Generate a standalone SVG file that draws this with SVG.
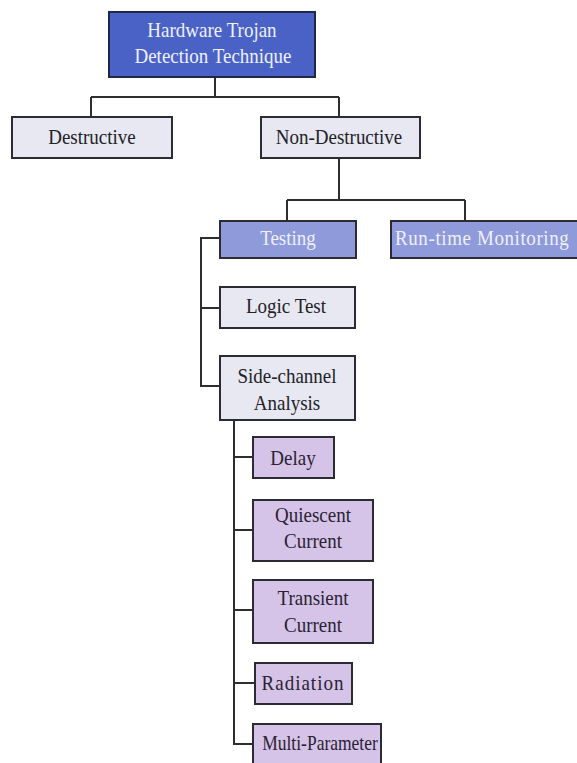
<svg xmlns="http://www.w3.org/2000/svg" width="577" height="763" viewBox="0 0 577 763">
<style>
text{font-family:"Liberation Serif","Times New Roman",serif;font-size:19px;text-anchor:middle}
.box{stroke:#2b2b33;stroke-width:2}
.top{fill:#4a62c6;stroke:#1f2747}
.lt{fill:#e7e8f1}
.mb{fill:#8e9ad9}
.pu{fill:#d5c4e7}
.wt{fill:#eef0fa}
.dk{fill:#222228}
.pt{fill:#2a2233}
.conn{fill:none;stroke:#2e2e2e;stroke-width:2}
</style>
<rect width="577" height="763" fill="#ffffff"/>
<g id="connectors">
<path class="conn" d="M215 77V97M91 97H339M91 97V117M339 97V117"/>
<path class="conn" d="M339 158V200M287 200H465M287 200V221M465 200V221"/>
<path class="conn" d="M220 238H201V386H220M201 308H220"/>
<path class="conn" d="M234 420V744H253M234 457H253M234 530H253M234 610H253M234 683H255"/>
</g>
<g id="n-root"><rect class="box top" x="109" y="12" width="206" height="65"/><text class="wt" x="212" y="37" transform="translate(0,-5.55) scale(1,1.15)">Hardware Trojan</text><text class="wt" x="213" y="63" transform="translate(0,-9.45) scale(1,1.15)">Detection Technique</text></g>
<g id="n-destructive"><rect class="box lt" x="12" y="117" width="160" height="41"/><text class="dk" x="92" y="144" transform="translate(0,-21.6) scale(1,1.15)">Destructive</text></g>
<g id="n-nondestructive"><rect class="box lt" x="261" y="117" width="159" height="41"/><text class="dk" x="339" y="144" transform="translate(0,-21.6) scale(1,1.15)">Non-Destructive</text></g>
<g id="n-testing"><rect class="box mb" x="220" y="221" width="136" height="37"/><text class="wt" x="288" y="245" transform="translate(0,-36.75) scale(1,1.15)">Testing</text></g>
<g id="n-runtime"><rect class="box mb" x="391" y="221" width="192" height="37"/><text class="wt" x="395" y="245" style="text-anchor:start;letter-spacing:0.6px" transform="translate(0,-36.75) scale(1,1.15)">Run-time Monitoring</text></g>
<g id="n-logic"><rect class="box lt" x="220" y="287" width="135" height="41"/><text class="dk" x="286" y="313" transform="translate(0,-46.95) scale(1,1.15)">Logic Test</text></g>
<g id="n-sidechannel"><rect class="box lt" x="220" y="356" width="135" height="64"/><text class="dk" x="287" y="383" transform="translate(0,-57.45) scale(1,1.15)">Side-channel</text><text class="dk" x="287" y="410" transform="translate(0,-61.5) scale(1,1.15)">Analysis</text></g>
<g id="n-delay"><rect class="box pu" x="253" y="437" width="81" height="41"/><text class="pt" x="293" y="465" transform="translate(0,-69.75) scale(1,1.15)">Delay</text></g>
<g id="n-quiescent"><rect class="box pu" x="253" y="500" width="120" height="61"/><text class="pt" x="313" y="522" transform="translate(0,-78.3) scale(1,1.15)">Quiescent</text><text class="pt" x="313" y="548" transform="translate(0,-82.2) scale(1,1.15)">Current</text></g>
<g id="n-transient"><rect class="box pu" x="253" y="580" width="120" height="63"/><text class="pt" x="313" y="605" transform="translate(0,-90.75) scale(1,1.15)">Transient</text><text class="pt" x="313" y="632" transform="translate(0,-94.8) scale(1,1.15)">Current</text></g>
<g id="n-radiation"><rect class="box pu" x="255" y="663" width="97" height="41"/><text class="pt" x="303" y="690" style="letter-spacing:1px" transform="translate(0,-103.5) scale(1,1.15)">Radiation</text></g>
<g id="n-multi"><rect class="box pu" x="253" y="724" width="128" height="45"/><text class="pt" x="320" y="750" style="font-size:17.5px" transform="translate(0,-112.5) scale(1,1.15)">Multi-Parameter</text></g>
</svg>
